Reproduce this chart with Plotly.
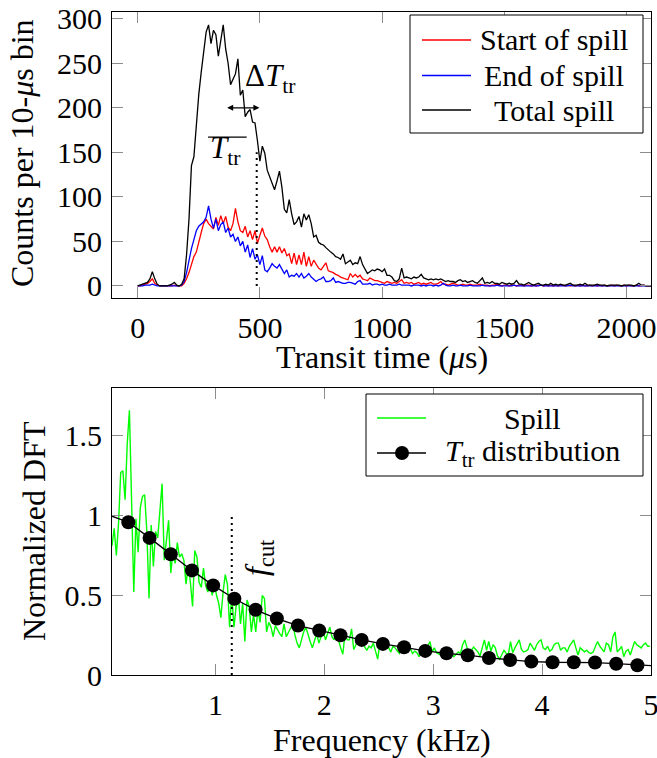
import numpy as np
import plotly.graph_objects as go

# ---------------- data: top panel (10-us bins, 0..2100 us) ----------------
t_bins = list(range(0, 2101, 10))

total_spill = [0, 1, 2, 3, 4, 8, 16, 8, 2, 0,
               0, 0, 0, 1, 2, 4, 1, 0, 2, 8,
               35, 75, 135, 145, 185, 215, 240, 265, 285, 293,
               272, 287, 282, 258, 278, 293, 266, 250, 226, 232,
               238, 255, 214, 220, 190, 195, 198, 184, 183, 163,
               140, 157, 149, 130, 123, 116, 108, 118, 129, 111,
               86, 82, 97, 81, 69, 72, 78, 66, 81, 74,
               80, 70, 55, 57, 49, 47, 46, 43, 40, 38,
               36, 33, 32, 30, 36, 25, 27, 29, 24, 26,
               25, 33, 24, 18, 14, 16, 18, 17, 19, 18,
               16, 19, 12, 12, 10, 6, 5, 8, 20, 9,
               10, 9, 8, 10, 9, 10, 13, 9, 8, 7,
               8, 7, 8, 7, 8, 6, 5, 6, 5, 5,
               4, 6, 7, 5, 6, 4, 5, 6, 4, 3,
               6, 9, 3, 4, 3, 5, 3, 3, 2, 4,
               3, 2, 3, 2, 3, 6, 2, 2, 1, 3,
               4, 2, 1, 2, 3, 1, 1, 2, 1, 3,
               1, 2, 1, 2, 1, 1, 2, 3, 1, 1,
               1, 2, 1, 3, 1, 1, 1, 1, 2, 1,
               1, 1, 0, 1, 1, 1, 1, 1, 0, 1,
               1, 1, 1, 0, 1, 3, 1, 1, 0, 0,
               0]

start_spill = [0, 0, 1, 2, 3, 5, 8, 3, 1, 0,
               0, 0, 0, 0, 0, 1, 0, 0, 0, 3,
               8, 15, 24, 33, 38, 50, 60, 70, 75, 70,
               67, 64, 77, 68, 79, 70, 78, 66, 62, 70,
               87, 72, 62, 60, 67, 55, 62, 52, 62, 48,
               57, 65, 56, 52, 44, 38, 44, 38, 44, 37,
               42, 34, 36, 25, 37, 24, 35, 24, 38, 22,
               33, 22, 29, 24, 20, 18, 22, 26, 17, 16,
               15, 13, 12, 10, 9, 8, 7, 14, 10, 13,
               10, 12, 8, 7, 6, 9, 7, 6, 6, 5,
               4, 3, 5, 4, 3, 4, 3, 5, 7, 3,
               4, 3, 4, 2, 3, 4, 2, 3, 2, 3,
               4, 2, 2, 3, 5, 2, 2, 1, 2, 3,
               2, 1, 1, 2, 1, 1, 2, 1, 1, 1,
               2, 1, 1, 1, 0, 1, 1, 2, 1, 0,
               1, 1, 0, 1, 1, 0, 1, 1, 0, 1,
               1, 0, 1, 0, 1, 1, 0, 1, 0, 1,
               0, 1, 0, 1, 1, 0, 1, 0, 1, 0,
               1, 0, 1, 0, 0, 1, 0, 1, 0, 1,
               0, 1, 0, 0, 1, 0, 1, 0, 0, 1,
               0, 1, 0, 0, 1, 0, 0, 1, 0, 0,
               0]

end_spill = [0, 0, 0, 1, 1, 1, 2, 1, 0, 0,
             0, 0, 0, 0, 0, 0, 0, 0, 1, 5,
             15, 30, 42, 52, 62, 67, 70, 72, 77, 90,
             75, 65, 75, 62, 69, 72, 60, 65, 55, 58,
             50, 55, 45, 50, 38, 46, 32, 42, 30, 35,
             24, 34, 18, 16, 20, 25, 22, 20, 24, 18,
             14, 18, 10, 12, 11, 14, 10, 14, 9, 11,
             14, 10, 7, 5, 7, 8, 10, 5, 5, 6,
             9, 4, 5, 4, 3, 3, 4, 4, 3, 2,
             5, 6, 2, 2, 2, 3, 1, 2, 2, 1,
             2, 1, 1, 2, 1, 1, 1, 2, 1, 1,
             1, 1, 0, 1, 1, 1, 0, 1, 0, 1,
             1, 0, 1, 0, 1, 3, 1, 0, 0, 1,
             0, 0, 1, 0, 0, 0, 1, 0, 0, 0,
             0, 1, 0, 0, 0, 0, 0, 1, 0, 0,
             0, 0, 0, 0, 1, 0, 0, 0, 0, 0,
             0, 0, 0, 0, 0, 1, 0, 0, 0, 0,
             0, 0, 0, 0, 0, 0, 0, 1, 0, 0,
             0, 0, 0, 0, 0, 0, 0, 0, 0, 0,
             0, 0, 0, 0, 0, 0, 0, 0, 0, 0,
             0, 0, 0, 0, 0, 0, 0, 0, 0, 0,
             0]

# annotation values (top)
t_mean = 487          # mean transit time (us)
t_mean_top = 150      # height of dotted marker line
dt_left, dt_right, dt_level = 360, 498, 200   # Delta T_tr arrow
tbar_x0, tbar_x1, tbar_y = 288, 446, 167      # overline of T_tr label

# ---------------- data: bottom panel ----------------
spill_freq = [round(0.05 + 0.02 * i, 2) for i in range(248)]
spill_dft = [0.81, 0.92, 0.75, 0.95, 1.27, 1.28, 1.10, 1.45, 1.66, 1.00,
             0.52, 0.98, 0.77, 1.05, 1.12, 1.13, 0.90, 0.48, 0.94, 0.68,
             0.90, 0.86, 1.05, 1.20, 0.72, 0.86, 0.97, 0.64, 0.78, 0.70,
             0.83, 0.74, 0.76, 0.72, 0.57, 0.69, 0.58, 0.43, 0.78, 0.74,
             0.58, 0.55, 0.67, 0.56, 0.52, 0.58, 0.50, 0.58, 0.50, 0.45,
             0.36, 0.52, 0.63, 0.57, 0.30, 0.50, 0.30, 0.43, 0.50, 0.32,
             0.45, 0.21, 0.47, 0.43, 0.27, 0.38, 0.27, 0.41, 0.33, 0.50,
             0.48, 0.27, 0.33, 0.30, 0.24, 0.31, 0.28, 0.26, 0.24, 0.32,
             0.24, 0.27, 0.29, 0.32, 0.25, 0.20, 0.17, 0.23, 0.27, 0.30,
             0.25, 0.21, 0.17, 0.22, 0.26, 0.20, 0.24, 0.28, 0.22, 0.26,
             0.30, 0.24, 0.22, 0.27, 0.21, 0.17, 0.13, 0.26, 0.22, 0.22,
             0.29, 0.16, 0.19, 0.22, 0.24, 0.20, 0.18, 0.155, 0.18, 0.17,
             0.20, 0.14, 0.10, 0.20, 0.23, 0.23, 0.20, 0.17, 0.145, 0.18,
             0.17, 0.15, 0.135, 0.17, 0.18, 0.145, 0.16, 0.165, 0.135, 0.15,
             0.14, 0.115, 0.14, 0.155, 0.14, 0.18, 0.21, 0.145, 0.17, 0.14,
             0.135, 0.125, 0.14, 0.155, 0.125, 0.13, 0.135, 0.115, 0.13, 0.145,
             0.135, 0.19, 0.22, 0.17, 0.125, 0.155, 0.175, 0.16, 0.145, 0.12,
             0.17, 0.22, 0.155, 0.21, 0.15, 0.19, 0.17, 0.12, 0.10, 0.13,
             0.155, 0.135, 0.13, 0.21, 0.14, 0.17, 0.20, 0.22, 0.16, 0.145,
             0.15, 0.16, 0.20, 0.18, 0.155, 0.19, 0.21, 0.22, 0.17, 0.16,
             0.18, 0.15, 0.16, 0.19, 0.20, 0.20, 0.155, 0.17, 0.17, 0.145,
             0.18, 0.20, 0.22, 0.17, 0.125, 0.17, 0.16, 0.145, 0.155, 0.14,
             0.135, 0.145, 0.18, 0.21, 0.18, 0.16, 0.145, 0.20, 0.19, 0.145,
             0.24, 0.27, 0.145, 0.16, 0.18, 0.115, 0.15, 0.16, 0.125, 0.17,
             0.21, 0.19, 0.18, 0.17, 0.19, 0.20, 0.18, 0.18]

ttr_freq = [0.200, 0.395, 0.590, 0.784, 0.979, 1.174, 1.369, 1.564, 1.758, 1.953,
            2.148, 2.343, 2.538, 2.732, 2.927, 3.122, 3.317, 3.512, 3.706, 3.901,
            4.096, 4.291, 4.486, 4.680, 4.875]
ttr_dft = [0.958, 0.860, 0.757, 0.656, 0.562, 0.478, 0.409, 0.354, 0.310, 0.279,
           0.249, 0.220, 0.195, 0.174, 0.151, 0.136, 0.124, 0.107, 0.094, 0.084,
           0.080, 0.080, 0.078, 0.071, 0.061]
ttr_line_freq = [0.05] + ttr_freq + [5.0]
ttr_line_dft = [0.996] + ttr_dft + [0.059]

f_cut = 1.15
f_cut_top = 1.0

# legend labels
top_names = ["Start of spill", "End of spill", "Total spill"]
top_colors = ["#ff0000", "#0000ff", "#000000"]
bot_names = ["Spill", "<i>T</i><sub>tr</sub> distribution"]
bot_colors = ["#00ff00", "#000000"]

# ---------------- figure ----------------
FONT = "Liberation Serif"
TICK = 30
TITLE = 32
LEG = 30
W, H = 657, 758
ML, MR, MT, MB = 112, 6, 12, 83
PW, PH = W - ML - MR, H - MT - MB


def px(xp):
    return (xp - ML) / PW


def py(yp):
    return (H - MB - yp) / PH


fig = go.Figure()

top_series = [start_spill, end_spill, total_spill]
for name, col, ser in zip(top_names, top_colors, top_series):
    fig.add_trace(go.Scatter(x=t_bins, y=ser, mode="lines", name=name, showlegend=False,
                             line=dict(color=col, width=1.3), xaxis="x", yaxis="y"))
fig.add_trace(go.Scatter(x=[t_mean, t_mean], y=[0, t_mean_top], mode="lines", showlegend=False,
                         line=dict(color="black", width=2, dash="2px,4px"), xaxis="x", yaxis="y"))
fig.add_trace(go.Scatter(x=[tbar_x0, tbar_x1], y=[tbar_y, tbar_y], mode="lines", showlegend=False,
                         line=dict(color="black", width=1.2), xaxis="x", yaxis="y"))

fig.add_trace(go.Scatter(x=spill_freq, y=spill_dft, mode="lines", name="Spill", showlegend=False,
                         line=dict(color="#00ff00", width=1.4), xaxis="x2", yaxis="y2"))
fig.add_trace(go.Scatter(x=ttr_line_freq, y=ttr_line_dft, mode="lines", showlegend=False,
                         line=dict(color="black", width=1.3), xaxis="x2", yaxis="y2"))
fig.add_trace(go.Scatter(x=ttr_freq, y=ttr_dft, mode="markers", name="Ttr distribution",
                         showlegend=False,
                         marker=dict(color="black", size=14, symbol="circle"),
                         xaxis="x2", yaxis="y2"))
fig.add_trace(go.Scatter(x=[f_cut, f_cut], y=[0, f_cut_top], mode="lines", showlegend=False,
                         line=dict(color="black", width=2, dash="2px,4px"), xaxis="x2", yaxis="y2"))

axis_common = dict(showgrid=False, zeroline=False, showline=True, linecolor="black", linewidth=1,
                   mirror="ticks", ticks="inside", ticklen=11, tickwidth=1, tickcolor="#8c8c8c",
                   automargin=False, ticklabelstandoff=3, ticklabeloverflow="allow",
                   tickfont=dict(family=FONT, size=TICK, color="black"))

fig.update_layout(
    width=W, height=H,
    margin=dict(l=ML, r=MR, t=MT, b=MB, autoexpand=False),
    paper_bgcolor="white", plot_bgcolor="white",
    font=dict(family=FONT, size=28, color="black"),
    xaxis=dict(domain=[0, 1], anchor="y", range=[-105, 2100],
               tickvals=[0, 500, 1000, 1500, 2000], **axis_common),
    yaxis=dict(domain=[py(298), 1], anchor="x", range=[-13.5, 307.5],
               tickvals=[0, 50, 100, 150, 200, 250, 300], **axis_common),
    xaxis2=dict(domain=[0, 1], anchor="y2", range=[0.05, 5],
                tickvals=[1, 2, 3, 4, 5], **axis_common),
    yaxis2=dict(domain=[0, py(388)], anchor="x2", range=[0, 1.8],
                tickvals=[0, 0.5, 1, 1.5], ticktext=["0", "0.5", "1", "1.5"], **axis_common),
    showlegend=False,
)

shapes = []
ann = []

# ---- manual legend, top panel ----
shapes.append(dict(type="rect", xref="paper", yref="paper", x0=px(410), x1=px(643), y0=py(133), y1=py(15),
                   line=dict(color="black", width=1), fillcolor="white", layer="above"))
for k, (name, col) in enumerate(zip(top_names, top_colors)):
    yrow = [40, 75.5, 110][k]
    shapes.append(dict(type="line", xref="paper", yref="paper", x0=px(422), x1=px(471),
                       y0=py(yrow), y1=py(yrow), line=dict(color=col, width=1.3), layer="above"))
    ann.append(dict(text=name, x=px(554), y=py(yrow), xref="paper", yref="paper", showarrow=False,
                    xanchor="center", yanchor="middle", font=dict(size=LEG)))

# ---- manual legend, bottom panel ----
shapes.append(dict(type="rect", xref="paper", yref="paper", x0=px(366), x1=px(643), y0=py(476), y1=py(394),
                   line=dict(color="black", width=1), fillcolor="white", layer="above"))
for k, (name, col) in enumerate(zip(bot_names, bot_colors)):
    yrow = [418, 453][k]
    shapes.append(dict(type="line", xref="paper", yref="paper", x0=px(377), x1=px(426),
                       y0=py(yrow), y1=py(yrow), line=dict(color=col, width=1.3), layer="above"))
    ann.append(dict(text=name, x=px(532), y=py(yrow), xref="paper", yref="paper", showarrow=False,
                    xanchor="center", yanchor="middle", font=dict(size=LEG)))
shapes.append(dict(type="circle", xref="paper", yref="paper", xsizemode="pixel", ysizemode="pixel",
                   xanchor=px(402), yanchor=py(453), x0=-7, x1=7, y0=-7, y1=7,
                   fillcolor="black", line=dict(color="black", width=0), layer="above"))

# axis titles
ann.append(dict(text="Transit time (<i>\u03bc</i>s)", x=0.5, y=py(357), xref="paper", yref="paper",
                showarrow=False, xanchor="center", yanchor="middle", font=dict(size=TITLE)))
ann.append(dict(text="Frequency (kHz)", x=0.5, y=py(740), xref="paper", yref="paper",
                showarrow=False, xanchor="center", yanchor="middle", font=dict(size=TITLE)))
ann.append(dict(text="Counts per 10-<i>\u03bc</i>s bin", x=px(22), y=py(153), xref="paper", yref="paper",
                showarrow=False, xanchor="center", yanchor="middle", textangle=-90, font=dict(size=TITLE)))
ann.append(dict(text="Normalized DFT", x=px(34), y=py(531), xref="paper", yref="paper",
                showarrow=False, xanchor="center", yanchor="middle", textangle=-90, font=dict(size=TITLE)))
# Delta T arrow and labels
ann.append(dict(x=dt_right, y=dt_level, ax=dt_left, ay=dt_level, xref="x", yref="y", axref="x", ayref="y",
                text="", showarrow=True, arrowhead=2, startarrowhead=2, arrowside="end+start",
                arrowsize=1, arrowwidth=1.2, arrowcolor="black", startstandoff=0, standoff=0))
ann.append(dict(text="\u0394<i>T</i><sub>tr</sub>", x=432, y=233, xref="x", yref="y",
                showarrow=False, xanchor="left", yanchor="middle", font=dict(size=31)))
ann.append(dict(text="<i>T</i><sub>tr</sub>", x=tbar_x0, y=153, xref="x", yref="y",
                showarrow=False, xanchor="left", yanchor="middle", font=dict(size=31)))
ann.append(dict(text="<i>f</i><sub>cut</sub>", x=1.39, y=0.74, xref="x2", yref="y2",
                showarrow=False, xanchor="center", yanchor="middle", textangle=-90, font=dict(size=32)))

fig.update_layout(shapes=shapes, annotations=ann)

fig.write_html("out.html")
